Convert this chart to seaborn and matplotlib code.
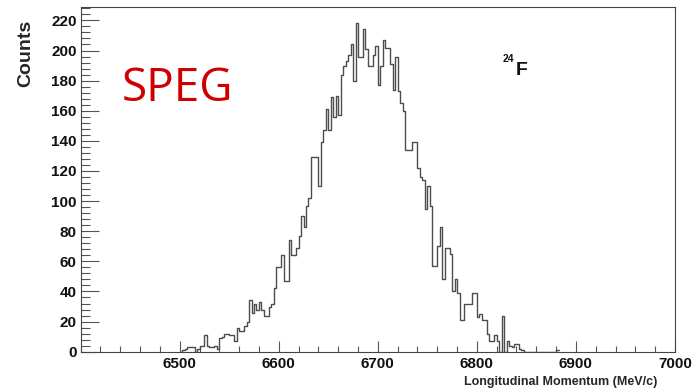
import numpy as np
import pandas as pd
import matplotlib
matplotlib.use("Agg")
import matplotlib.pyplot as plt
from matplotlib.ticker import MultipleLocator
import seaborn as sns

# ---- data ----
bin_start = 6500.0      # MeV/c, left edge of first bin
bin_width = 2.5         # MeV/c
counts = [
    0, 1, 2, 3, 3, 3, 0, 2, 4, 4,
    11, 4, 3, 3, 4, 2, 9, 10, 12, 12,
    11, 11, 7, 16, 14, 14, 17, 20, 34, 26,
    32, 28, 33, 28, 24, 24, 30, 32, 42, 56,
    56, 64, 47, 47, 74, 64, 64, 69, 77, 90,
    83, 97, 102, 129, 129, 129, 110, 139, 147, 161,
    147, 169, 156, 170, 157, 184, 190, 193, 197, 204,
    180, 218, 196, 196, 214, 201, 190, 190, 197, 203,
    177, 190, 207, 202, 202, 191, 174, 196, 173, 165,
    160, 134, 134, 134, 139, 139, 122, 116, 114, 95,
    110, 97, 57, 57, 70, 83, 48, 69, 69, 65,
    40, 48, 39, 21, 21, 32, 32, 32, 39, 39,
    23, 25, 21, 21, 12, 7, 7, 11, 7, 0,
    24, 0, 7, 4, 3, 5, 5, 2, 1, 0,
    0, 0, 0, 0, 0, 0, 0, 0, 0, 0, 0, 0, 1,
]
x_range = (6400, 7000)
x_major_ticks = [6500, 6600, 6700, 6800, 6900, 7000]
y_major_ticks = [0, 20, 40, 60, 80, 100, 120, 140, 160, 180, 200, 220]
x_label = "Longitudinal Momentum (MeV/c)"
y_label = "Counts"
title_text = "SPEG"
isotope_mass = "24"
isotope_symbol = "F"

# ---- figure ----
sns.set_style("white")
plt.rcParams["font.family"] = ["Liberation Sans", "DejaVu Sans"]

counts_arr = np.array(counts, dtype=float)
nbins = len(counts_arr)
centers = bin_start + bin_width * (np.arange(nbins) + 0.5)
df = pd.DataFrame({"p": centers, "w": counts_arr})

fig = plt.figure(figsize=(6.92, 3.89), dpi=100)
ax = fig.add_axes([0.1166, 0.0959, 0.8588, 0.8861])

sns.histplot(data=df, x="p", weights="w", binwidth=bin_width,
             binrange=(bin_start, bin_start + bin_width * nbins),
             element="step", fill=False, color="#4d4d4d", linewidth=1.0, ax=ax)

ax.set_xlim(*x_range)
ax.set_ylim(0, 1.05 * counts_arr.max())

ax.set_xticks(x_major_ticks)
ax.set_yticks(y_major_ticks)
ax.xaxis.set_minor_locator(MultipleLocator(20))
ax.yaxis.set_minor_locator(MultipleLocator(4))

tick_col = "#555555"
ax.tick_params(axis="y", which="major", direction="in", length=13, width=0.8,
               color=tick_col, pad=3, labelsize=11, left=True, right=False)
ax.tick_params(axis="y", which="minor", direction="in", length=6.5, width=0.8,
               color=tick_col, left=True, right=False)
ax.tick_params(axis="x", which="major", direction="in", length=8, width=0.8,
               color=tick_col, pad=4, labelsize=11, bottom=True, top=False)
ax.tick_params(axis="x", which="minor", direction="in", length=4, width=0.8,
               color=tick_col, bottom=True, top=False)
for lab in ax.get_xticklabels() + ax.get_yticklabels():
    lab.set_fontweight("bold")
    lab.set_color("#111111")

for sp in ax.spines.values():
    sp.set_visible(True)
    sp.set_color("#444444")
    sp.set_linewidth(0.8)

ax.set_xlabel(x_label, fontsize=9, fontweight="bold", ha="right", va="center")
ax.xaxis.set_label_coords(0.970, -0.087)
ax.set_ylabel(y_label, fontsize=14, fontweight="bold", ha="right", va="center")
ax.yaxis.set_label_coords(-0.092, 0.962)

ax.text(0.163, 0.762, title_text, transform=ax.transAxes, color="#d10000",
        fontsize=33, family=["Open Sans", "DejaVu Sans"], ha="center", va="center")
ax.text(0.7198, 0.849, isotope_mass, transform=ax.transAxes, fontsize=7.5,
        fontweight="bold", ha="center", va="center", color="#111111")
ax.text(0.7414, 0.817, isotope_symbol, transform=ax.transAxes, fontsize=14,
        fontweight="bold", ha="center", va="center", color="#111111")

fig.savefig("out.png", dpi=100)
